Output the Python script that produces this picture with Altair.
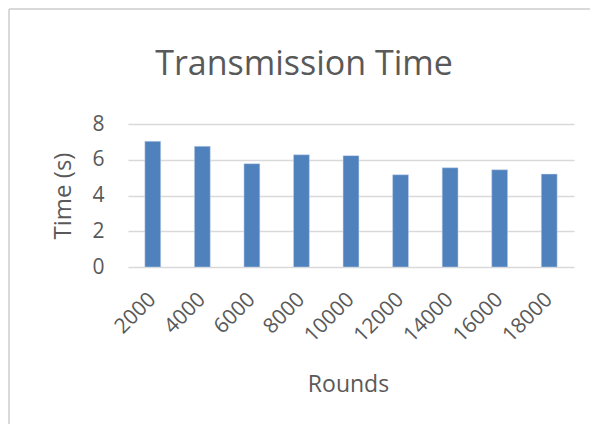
import altair as alt
import pandas as pd

rounds = ["2000", "4000", "6000", "8000", "10000", "12000", "14000", "16000", "18000"]
times = [7.03, 6.75, 5.78, 6.28, 6.23, 5.16, 5.55, 5.44, 5.20]
title_text = ["Transmission Time"]

df = pd.DataFrame({"Rounds": rounds, "Time": times})
tdf = pd.DataFrame({"t": title_text})

FONT = "Open Sans"
TXT = "#595959"
GRID = "#D9D9D9"

bars = alt.Chart(df).mark_bar(color="#4F81BD", stroke="#C9D6EA", strokeWidth=0.5).encode(
    x=alt.X("Rounds:N", sort=rounds,
            scale=alt.Scale(paddingInner=0.68, paddingOuter=0.34),
            axis=alt.Axis(title="Rounds", labelAngle=-45, labelAlign="right",
                          labelBaseline="middle", labelPadding=29, ticks=False,
                          domain=False, labelFontSize=21, labelColor=TXT,
                          titleFontSize=23, titleColor=TXT, titleFontWeight="normal",
                          titleX=220, titleY=117, titleBaseline="middle",
                          titleAlign="center", labelFont=FONT, titleFont=FONT)),
    y=alt.Y("Time:Q", scale=alt.Scale(domain=[0, 8]),
            axis=alt.Axis(title="Time (s)", values=[0, 2, 4, 6, 8], ticks=False,
                          domain=False, grid=True, gridColor=GRID, gridWidth=1.3,
                          labelPadding=24, labelFontSize=21, labelColor=TXT,
                          titleFontSize=24, titleColor=TXT, titleFontWeight="normal",
                          titleX=-65, titleY=71.5, titleAngle=270,
                          titleBaseline="middle", titleAlign="center",
                          labelFont=FONT, titleFont=FONT)),
)

title = alt.Chart(tdf).mark_text(font=FONT, fontSize=34, color=TXT,
                                 align="center", baseline="alphabetic").encode(
    text="t:N", x=alt.value(176), y=alt.value(-49)
)

border_left = alt.Chart(df).mark_rule(color=GRID, strokeWidth=1.5).encode(
    x=alt.value(-119), y=alt.value(-115), y2=alt.value(310)
)
border_top = alt.Chart(df).mark_rule(color=GRID, strokeWidth=1.5).encode(
    x=alt.value(-119), x2=alt.value(470), y=alt.value(-115)
)

chart = alt.layer(bars, title, border_left, border_top).properties(
    width=446, height=143,
    autosize=alt.AutoSizeParams(type="none"),
    padding={"left": 120, "top": 116, "right": 16, "bottom": 157},
).configure_view(stroke=None)

chart.save("out.html", embed_options={"renderer": "svg", "actions": False})
